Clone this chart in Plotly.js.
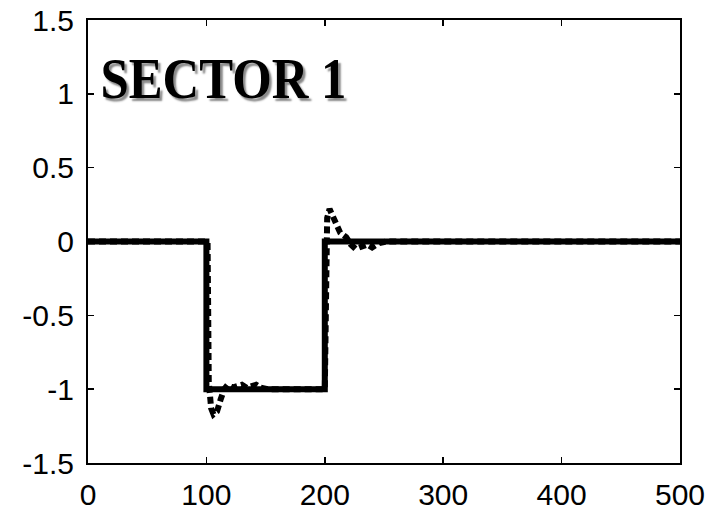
<!DOCTYPE html>
<html>
<head>
<meta charset="utf-8">
<script src="https://cdn.plot.ly/plotly-3.0.1.min.js"></script>
<style>
  html, body { margin: 0; padding: 0; background: #fff; }
  #chart { width: 720px; height: 513px; }
</style>
</head>
<body>
<div id="chart"></div>
<script>
// Reference step signal: 0, drops to -1 at t=100, returns to 0 at t=200
const refX = [0, 100, 100, 200, 200, 500];
const refY = [0, 0, -1, -1, 0, 0];

// Tracked response (dashed): short lag with overshoot and damped ripple at each edge
const respX = [0, 101, 102, 104, 106, 109, 112, 115, 118, 122, 126, 130, 134, 138, 142, 146, 152,
               200, 201, 202, 204, 206, 209, 213, 218, 222, 226, 231, 236, 240, 246, 252, 500];
const respY = [0, 0, -0.95, -1.13, -1.17, -1.15, -1.07, -1.0, -0.97, -0.99, -0.98, -0.97, -0.99, -0.98, -0.97, -0.99, -1.0,
               -1.0, -0.2, 0.16, 0.22, 0.18, 0.12, 0.06, 0.03, -0.02, -0.05, -0.03, -0.02, -0.04, -0.01, 0, 0];

const xTicks = [0, 100, 200, 300, 400, 500];
const yTicks = [-1.5, -1, -0.5, 0, 0.5, 1, 1.5];
const yTickText = ['-1.5', '-1', '-0.5', '0', '0.5', '1', '1.5'];

const traces = [
  {
    x: refX, y: refY, type: 'scatter', mode: 'lines',
    line: { color: '#000', width: 6 },
    hoverinfo: 'skip'
  },
  {
    x: respX, y: respY, type: 'scatter', mode: 'lines',
    line: { color: '#000', width: 6, dash: '7px,4px' },
    hoverinfo: 'skip'
  }
];

const axisCommon = {
  showgrid: false,
  zeroline: false,
  showline: true,
  linecolor: '#000',
  linewidth: 2,
  mirror: 'ticks',
  ticks: 'inside',
  ticklen: 6,
  tickwidth: 1.5,
  tickcolor: '#000',
  tickfont: { family: 'Liberation Sans, Arial, sans-serif', size: 30, color: '#000' }
};

const layout = {
  width: 720,
  height: 513,
  margin: { l: 88, r: 40, t: 20, b: 50 },
  paper_bgcolor: '#fff',
  plot_bgcolor: '#fff',
  showlegend: false,
  xaxis: Object.assign({}, axisCommon, {
    range: [0, 500],
    tickvals: xTicks,
    ticktext: xTicks.map(String),
    ticklabelstandoff: 4
  }),
  yaxis: Object.assign({}, axisCommon, {
    range: [-1.5, 1.5],
    tickvals: yTicks,
    ticktext: yTickText,
    ticklabelstandoff: 6
  }),
  annotations: [{
    text: '<b>SECTOR 1</b>',
    xref: 'paper', yref: 'paper',
    x: -0.012, y: 0.868,
    xanchor: 'left', yanchor: 'middle',
    showarrow: false,
    font: {
      family: 'Liberation Serif, Times New Roman, serif',
      size: 58,
      color: '#000',
      shadow: '3px 3px 2px #8a8a8a'
    }
  }]
};

Plotly.newPlot('chart', traces, layout, { displayModeBar: false, staticPlot: true }).then(function () {
  // Condense the heading horizontally to its drawn width
  const t = document.querySelector('.annotation-text');
  if (t) {
    t.setAttribute('textLength', '246');
    t.setAttribute('lengthAdjust', 'spacingAndGlyphs');
  }
});
</script>
</body>
</html>
